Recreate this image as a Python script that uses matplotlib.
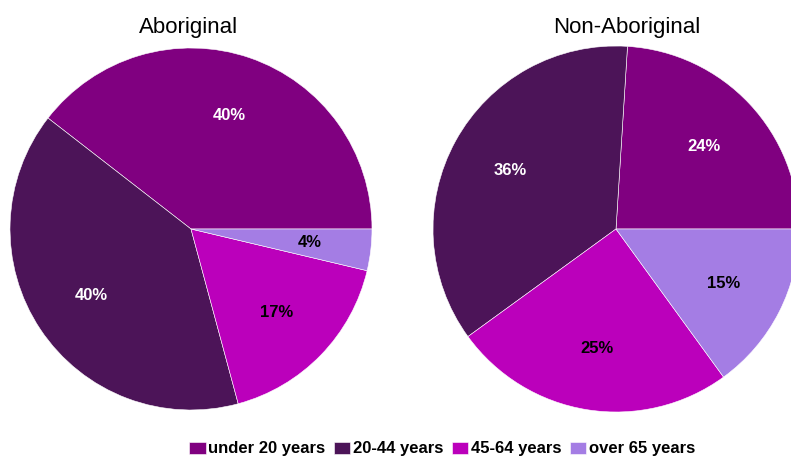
import numpy as np
import matplotlib.pyplot as plt

plt.rcParams['font.family'] = ['Liberation Sans', 'DejaVu Sans']

age_groups = ['under 20 years', '20-44 years', '45-64 years', 'over 65 years']
aboriginal = [39.5, 39.7, 17.1, 3.7]
non_aboriginal = [24.0, 36.0, 25.0, 15.0]
aboriginal_labels = ['40%', '40%', '17%', '4%']
non_aboriginal_labels = ['24%', '36%', '25%', '15%']

colors = ['#800080', '#4c1458', '#bb00bb', '#a47de4']
label_colors = ['white', 'white', 'black', 'black']

W, H = 791, 457
fig = plt.figure(figsize=(W / 100, H / 100), dpi=100)


def pie_axes(cx, cy, r):
    # pixel centre/radius -> figure fraction
    return fig.add_axes([(cx - r) / W, (H - cy - r) / H, 2 * r / W, 2 * r / H])


def draw_pie(ax, values, labels):
    wedges, _ = ax.pie(values, colors=colors, startangle=0, counterclock=True,
                       wedgeprops=dict(edgecolor='white', linewidth=0.4))
    total = sum(values)
    start = 0.0
    for v, lab, c in zip(values, labels, label_colors):
        mid = np.deg2rad((start + v / 2) / total * 360)
        ax.text(0.66 * np.cos(mid), 0.66 * np.sin(mid), lab, ha='center', va='center',
                fontsize=12, fontweight='bold', color=c)
        start += v
    for w in wedges:
        w.set_clip_on(False)
    ax.set_xlim(-1, 1)
    ax.set_ylim(-1, 1)
    ax.set_aspect('equal')
    ax.axis('off')
    return wedges


ax1 = pie_axes(191, 229, 181)
wedges = draw_pie(ax1, aboriginal, aboriginal_labels)
ax2 = pie_axes(616, 229, 183)
draw_pie(ax2, non_aboriginal, non_aboriginal_labels)

fig.text(189 / W, 1 - 33 / H, 'Aboriginal', ha='center', va='baseline', fontsize=16)
fig.text(627 / W, 1 - 33 / H, 'Non-Aboriginal', ha='center', va='baseline', fontsize=16)

fig.legend(wedges, age_groups, loc='center', bbox_to_anchor=(442 / W, 1 - 449 / H),
           ncol=4, frameon=False, prop=dict(weight='bold', size=12),
           handlelength=1.0, handleheight=0.7, handletextpad=0.15,
           columnspacing=0.5, borderpad=0)

fig.savefig('out.png', dpi=100)
